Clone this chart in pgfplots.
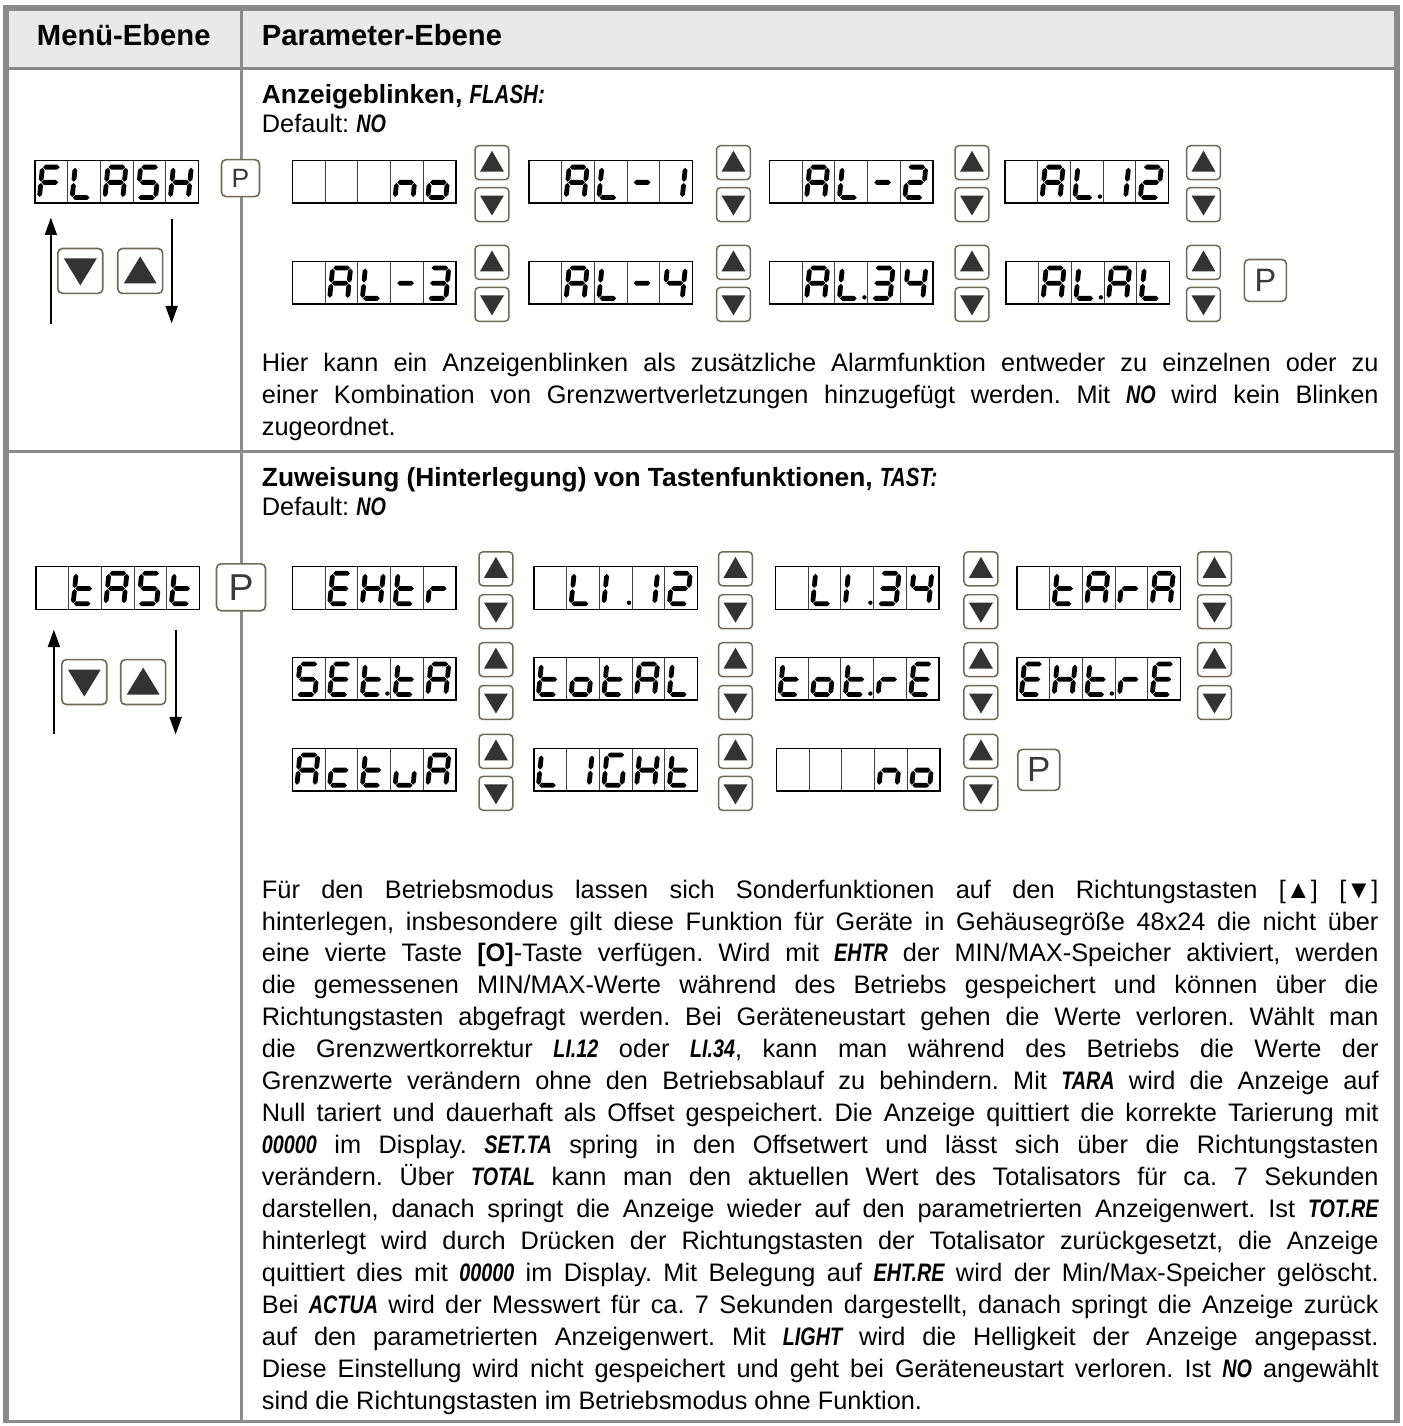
\documentclass[border=0pt]{standalone}
\usepackage{fontspec}
\setmainfont{Liberation Sans}
\usepackage{graphicx}
\usepackage{pgfplots}
\pgfplotsset{compat=1.18}
\usetikzlibrary{arrows.meta}

\definecolor{frameg}{HTML}{8A8A8A}
\definecolor{hdrbg}{HTML}{E9E9E9}
\definecolor{btnb}{HTML}{6E6A55}
\definecolor{tri}{HTML}{333333}
\definecolor{pcol}{HTML}{3A3A3A}

\newcommand\bodyfont{\fontsize{10.15}{12.8}\selectfont\frenchspacing}
\newcommand\boldfont{\fontsize{10.55}{12.8}\selectfont\bfseries\frenchspacing}
\newcommand\dgt[1]{\scalebox{0.78}[1]{\bfseries\itshape #1}}

% tapered seven-segment pieces (units: px, y downwards)
\newcommand\hseg[3]{\fill ({(#1+0.6)*1pt},{#3*1pt}) -- ({(#1+3.0)*1pt},{(#3-2.4)*1pt}) -- ({(#2-3.0)*1pt},{(#3-2.4)*1pt}) -- ({(#2-0.6)*1pt},{#3*1pt}) -- ({(#2-3.0)*1pt},{(#3+2.4)*1pt}) -- ({(#1+3.0)*1pt},{(#3+2.4)*1pt}) -- cycle;}
\newcommand\vseg[4]{\fill ({(#1-0.06)*1pt},{(#2+0.6)*1pt}) -- ({(#1+2.1)*1pt},{(#2+3.0)*1pt}) -- ({(#3+2.7)*1pt},{(#4-3.0)*1pt}) -- ({(#3+0.06)*1pt},{(#4-0.6)*1pt}) -- ({(#3-2.1)*1pt},{(#4-3.0)*1pt}) -- ({(#1-2.7)*1pt},{(#2+3.0)*1pt}) -- cycle;}
\newcommand\Sa{\hseg{7.55}{25.55}{6.5}}
\newcommand\Sg{\hseg{6.03}{24.03}{21.75}}
\newcommand\Sd{\hseg{4.5}{22.5}{37}}
\newcommand\Sf{\vseg{7.55}{6.5}{6.03}{21.75}}
\newcommand\Sb{\vseg{25.55}{6.5}{24.03}{21.75}}
\newcommand\Se{\vseg{6.03}{21.75}{4.5}{37}}
\newcommand\Sc{\vseg{24.03}{21.75}{22.5}{37}}
\newcommand\Sp{\fill (29.6pt,36pt) circle (2.2pt);}

\newcommand\GA{\Sa\Sb\Sc\Se\Sf\Sg}
\newcommand\GL{\Sd\Se\Sf}
\newcommand\GF{\Sa\Se\Sf\Sg}
\newcommand\GS{\Sa\Sf\Sg\Sc\Sd}
\newcommand\GH{\Sb\Sc\Se\Sf\Sg}
\newcommand\GE{\Sa\Sd\Se\Sf\Sg}
\newcommand\Gt{\Sd\Se\Sf\Sg}
\newcommand\Gr{\Se\Sg}
\newcommand\Gn{\Sc\Se\Sg}
\newcommand\Go{\Sc\Sd\Se\Sg}
\newcommand\Gc{\Sd\Se\Sg}
\newcommand\Gu{\Sc\Sd\Se}
\newcommand\GG{\Sa\Sc\Sd\Se\Sf}
\newcommand\Gone{\Sb\Sc}
\newcommand\GI{\Se\Sf}
\newcommand\Gtwo{\Sa\Sb\Sg\Se\Sd}
\newcommand\Gthree{\Sa\Sb\Sg\Sc\Sd}
\newcommand\Gfour{\Sf\Sg\Sb\Sc}
\newcommand\Gdash{\Sg}
\newcommand\Gx{}

\newcommand\disp[7]{%
\begin{scope}[shift={(axis cs:#1,#2)},xscale=0.4,yscale=-0.4]
\fill[white] (0pt,0pt) rectangle (164pt,42.5pt);
\foreach \i in {1,2,3,4}{\draw[line width=0.45pt,black!75] ({\i*32.8pt},0pt) -- ({\i*32.8pt},42.5pt);}
\draw[line width=0.55pt] (0pt,0pt) rectangle (164pt,42.5pt);
\begin{scope}#3\end{scope}
\begin{scope}[xshift=32.8pt]#4\end{scope}
\begin{scope}[xshift=65.6pt]#5\end{scope}
\begin{scope}[xshift=98.4pt]#6\end{scope}
\begin{scope}[xshift=131.2pt]#7\end{scope}
\end{scope}}

\newcommand\ubtn[2]{%
\begin{scope}[shift={(axis cs:#1,#2)},xscale=0.4,yscale=-0.4]
\draw[btnb,line width=0.6pt,fill=white,rounded corners=1.6pt] (0pt,0pt) rectangle (34pt,34pt);
\fill[tri] (17pt,5pt) -- (29pt,26pt) -- (5pt,26pt) -- cycle;
\end{scope}}
\newcommand\dbtn[2]{%
\begin{scope}[shift={(axis cs:#1,#2)},xscale=0.4,yscale=-0.4]
\draw[btnb,line width=0.6pt,fill=white,rounded corners=1.6pt] (0pt,0pt) rectangle (34pt,34pt);
\fill[tri] (5pt,8pt) -- (29pt,8pt) -- (17pt,28pt) -- cycle;
\end{scope}}
\newcommand\ud[3]{\ubtn{#1}{#2}\dbtn{#1}{#3}}
\newcommand\bigup[2]{%
\begin{scope}[shift={(axis cs:#1,#2)},xscale=0.4,yscale=-0.4]
\draw[btnb,line width=0.65pt,fill=white,rounded corners=1.8pt] (0pt,0pt) rectangle (45pt,45pt);
\fill[tri] (22.5pt,8pt) -- (39pt,35pt) -- (6pt,35pt) -- cycle;
\end{scope}}
\newcommand\bigdown[2]{%
\begin{scope}[shift={(axis cs:#1,#2)},xscale=0.4,yscale=-0.4]
\draw[btnb,line width=0.65pt,fill=white,rounded corners=1.8pt] (0pt,0pt) rectangle (45pt,45pt);
\fill[tri] (6pt,10pt) -- (39pt,10pt) -- (22.5pt,37pt) -- cycle;
\end{scope}}
% P button: x y w h fontsize
\newcommand\pbtn[5]{%
\begin{scope}[shift={(axis cs:#1,#2)},xscale=0.4,yscale=-0.4]
\draw[btnb,line width=0.65pt,fill=white,rounded corners=1.8pt] (0pt,0pt) rectangle (#3pt,#4pt);
\node[pcol,inner sep=0pt] at ({#3pt/2},{#4pt/2}) {\fontsize{#5}{#5}\selectfont P};
\end{scope}}

\newcommand\jl[2]{\node[anchor=base west,inner sep=0pt] at (axis cs:262,#1) {\bodyfont\makebox[447.6pt][s]{#2}};}
\newcommand\lastl[2]{\node[anchor=base west,inner sep=0pt] at (axis cs:262,#1) {\bodyfont #2};}

\begin{document}
\begin{tikzpicture}
\begin{axis}[x=0.4pt,y=0.4pt,xmin=0,xmax=1405,ymin=0,ymax=1426,y dir=reverse,
  hide axis,clip=false,at={(0,0)},anchor=south west]
\addplot[draw=none,forget plot] coordinates {(0,0) (1405,1426)};
\pgfplotsextra{%
\fill[white] (axis cs:0,0) rectangle (axis cs:1405,1426);
% header background
\fill[hdrbg] (axis cs:8,10) rectangle (axis cs:1398,68);
% grid lines
\draw[frameg,line width=1.2pt] (axis cs:6,68.5) -- (axis cs:1400,68.5);
\draw[frameg,line width=1.2pt] (axis cs:6,452) -- (axis cs:1400,452);
\draw[frameg,line width=1.2pt] (axis cs:242.5,8) -- (axis cs:242.5,1426);
\draw[frameg,line width=1.2pt] (axis cs:6,1424.5) -- (axis cs:1400,1424.5);
% outer frame
\draw[frameg,line width=2.4pt] (axis cs:6,1426) -- (axis cs:6,8) -- (axis cs:1400,8) -- (axis cs:1400,1426);
% header text
\node[anchor=base,inner sep=0pt] at (axis cs:124,46) {\fontsize{11.7}{14}\selectfont\bfseries Menü-Ebene};
\node[anchor=base west,inner sep=0pt] at (axis cs:262,46) {\fontsize{11.7}{14}\selectfont\bfseries Parameter-Ebene};
% ---------- FLASH ----------
\node[anchor=base west,inner sep=0pt] at (axis cs:262,104) {\boldfont Anzeigeblinken, \dgt{FLASH:}};
\node[anchor=base west,inner sep=0pt] at (axis cs:262,133) {\bodyfont Default: \dgt{NO}};
\disp{35}{161}{\GF}{\GL}{\GA}{\GS}{\GH}
\pbtn{222}{160}{38}{37}{10.6}
\draw[line width=0.8pt,-{Triangle[length=7pt,width=4.8pt]}] (axis cs:51,325) -- (axis cs:51,218);
\draw[line width=0.8pt,-{Triangle[length=7pt,width=4.8pt]}] (axis cs:172,219) -- (axis cs:172,324);
\bigdown{58}{249}
\bigup{118}{249}
\disp{293}{161}{\Gx}{\Gx}{\Gx}{\Gn}{\Go}
\ud{476}{146}{188}
\disp{530}{161}{\Gx}{\GA}{\GL}{\Gdash}{\Gone}
\ud{718}{146}{188}
\disp{771}{161}{\Gx}{\GA}{\GL}{\Gdash}{\Gtwo}
\ud{957}{146}{188}
\disp{1007}{161}{\Gx}{\GA}{\GL\Sp}{\Gone}{\Gtwo}
\ud{1189}{146}{188}
\disp{293}{262}{\Gx}{\GA}{\GL}{\Gdash}{\Gthree}
\ud{476}{246}{288}
\disp{530}{262}{\Gx}{\GA}{\GL}{\Gdash}{\Gfour}
\ud{718}{246}{288}
\disp{771}{262}{\Gx}{\GA}{\GL\Sp}{\Gthree}{\Gfour}
\ud{957}{246}{288}
\disp{1008}{262}{\Gx}{\GA}{\GL\Sp}{\GA}{\GL}
\ud{1189}{246}{288}
\pbtn{1247}{260}{42}{42}{13}
\jl{372}{Hier kann ein Anzeigenblinken als zusätzliche Alarmfunktion entweder zu einzelnen oder zu}
\jl{404}{einer Kombination von Grenzwertverletzungen hinzugefügt werden. Mit \dgt{NO} wird kein Blinken}
\lastl{436}{zugeordnet.}
% ---------- TAST ----------
\node[anchor=base west,inner sep=0pt] at (axis cs:262,488) {\boldfont Zuweisung (Hinterlegung) von Tastenfunktionen, \dgt{TAST:}};
\node[anchor=base west,inner sep=0pt] at (axis cs:262,517) {\bodyfont Default: \dgt{NO}};
\disp{36}{568}{\Gx}{\Gt}{\GA}{\GS}{\Gt}
\pbtn{217}{565}{49}{47}{15}
\draw[line width=0.8pt,-{Triangle[length=7pt,width=4.8pt]}] (axis cs:54,736) -- (axis cs:54,631);
\draw[line width=0.8pt,-{Triangle[length=7pt,width=4.8pt]}] (axis cs:176,631) -- (axis cs:176,736);
\bigdown{62}{661}
\bigup{121}{661}
\disp{293}{568}{\Gx}{\GE}{\GH}{\Gt}{\Gr}
\ud{480}{553}{596}
\disp{535}{568}{\Gx}{\GL}{\GI\Sp}{\Gone}{\Gtwo}
\ud{720}{553}{596}
\disp{777}{568}{\Gx}{\GL}{\GI\Sp}{\Gthree}{\Gfour}
\ud{966}{553}{596}
\disp{1019}{568}{\Gx}{\Gt}{\GA}{\Gr}{\GA}
\ud{1200}{553}{596}
\disp{293}{659}{\GS}{\GE}{\Gt\Sp}{\Gt}{\GA}
\ud{480}{644}{687}
\disp{535}{659}{\Gt}{\Go}{\Gt}{\GA}{\GL}
\ud{720}{644}{687}
\disp{777}{659}{\Gt}{\Go}{\Gt\Sp}{\Gr}{\GE}
\ud{966}{644}{687}
\disp{1019}{659}{\GE}{\GH}{\Gt\Sp}{\Gr}{\GE}
\ud{1200}{644}{687}
\disp{293}{750}{\GA}{\Gc}{\Gt}{\Gu}{\GA}
\ud{480}{736}{778}
\disp{535}{750}{\GL}{\Gone}{\GG}{\GH}{\Gt}
\ud{720}{736}{778}
\disp{778}{750}{\Gx}{\Gx}{\Gx}{\Gn}{\Go}
\ud{966}{736}{778}
\pbtn{1020}{751}{42}{41}{14}
\jl{900}{Für den Betriebsmodus lassen sich Sonderfunktionen auf den Richtungstasten [▲] [▼]}
\jl{932}{hinterlegen, insbesondere gilt diese Funktion für Geräte in Gehäusegröße 48x24 die nicht über}
\jl{964}{eine vierte Taste \textbf{[O]}-Taste verfügen. Wird mit \dgt{EHTR} der MIN/MAX-Speicher aktiviert, werden}
\jl{996}{die gemessenen MIN/MAX-Werte während des Betriebs gespeichert und können über die}
\jl{1028}{Richtungstasten abgefragt werden. Bei Geräteneustart gehen die Werte verloren. Wählt man}
\jl{1060}{die Grenzwertkorrektur \dgt{LI.12} oder \dgt{LI.34}, kann man während des Betriebs die Werte der}
\jl{1092}{Grenzwerte verändern ohne den Betriebsablauf zu behindern. Mit \dgt{TARA} wird die Anzeige auf}
\jl{1124}{Null tariert und dauerhaft als Offset gespeichert. Die Anzeige quittiert die korrekte Tarierung mit}
\jl{1156}{\dgt{00000} im Display. \dgt{SET.TA} spring in den Offsetwert und lässt sich über die Richtungstasten}
\jl{1188}{verändern. Über \dgt{TOTAL} kann man den aktuellen Wert des Totalisators für ca. 7 Sekunden}
\jl{1220}{darstellen, danach springt die Anzeige wieder auf den parametrierten Anzeigenwert. Ist \dgt{TOT.RE}}
\jl{1252}{hinterlegt wird durch Drücken der Richtungstasten der Totalisator zurückgesetzt, die Anzeige}
\jl{1284}{quittiert dies mit \dgt{00000} im Display. Mit Belegung auf \dgt{EHT.RE} wird der Min/Max-Speicher gelöscht.}
\jl{1316}{Bei \dgt{ACTUA} wird der Messwert für ca. 7 Sekunden dargestellt, danach springt die Anzeige zurück}
\jl{1348}{auf den parametrierten Anzeigenwert. Mit \dgt{LIGHT} wird die Helligkeit der Anzeige angepasst.}
\jl{1380}{Diese Einstellung wird nicht gespeichert und geht bei Geräteneustart verloren. Ist \dgt{NO} angewählt}
\lastl{1412}{sind die Richtungstasten im Betriebsmodus ohne Funktion.}
}
\end{axis}
\end{tikzpicture}
\end{document}
